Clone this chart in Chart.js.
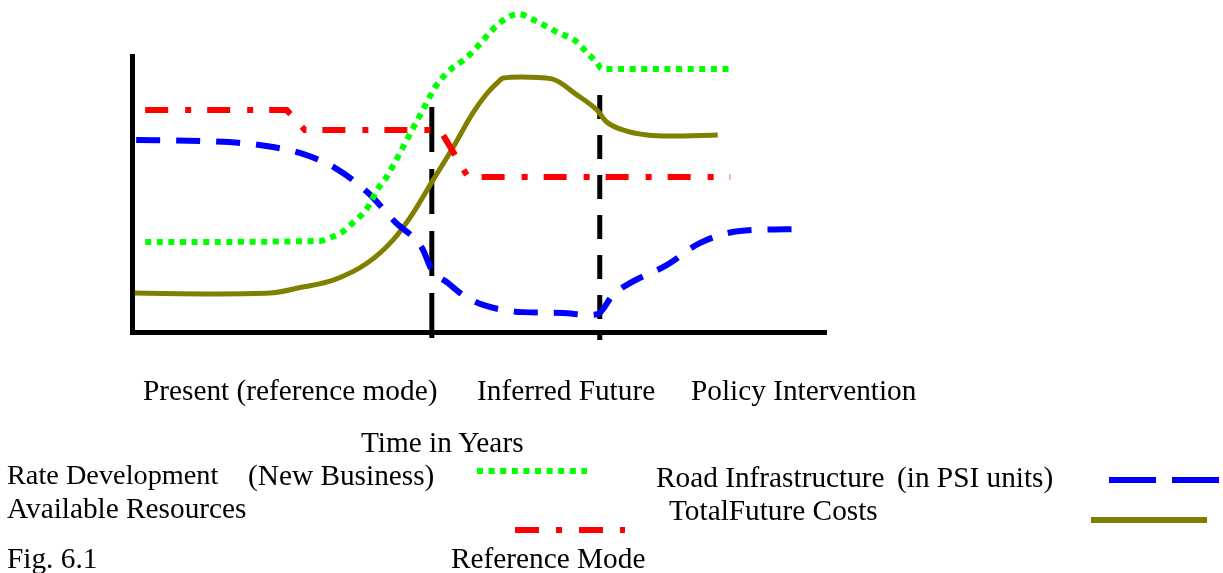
<!DOCTYPE html>
<html>
<head>
<meta charset="utf-8">
<title>Fig. 6.1 Reference Mode</title>
<script src="https://cdn.jsdelivr.net/npm/chart.js@4.4.0/dist/chart.umd.min.js"></script>
<style>
    html, body { margin: 0; padding: 0; background: #fff; }
    #wrap { position: relative; width: 1223px; height: 573px; overflow: hidden; }
    #modeChart { position: absolute; left: 0; top: 0; }
    .t { position: absolute; font-family: "Liberation Serif", "Times New Roman", serif; font-size: 29.3px; line-height: 28px; color: #000; white-space: nowrap; }
    .key { position: absolute; overflow: visible; }
</style>
</head>
<body>
<div id="wrap">
    <canvas id="modeChart" width="1223" height="573"></canvas>

    <div class="t" style="left:143px; top:376px">Present (reference mode)</div>
    <div class="t" style="left:477px; top:376px">Inferred Future</div>
    <div class="t" style="left:691px; top:376px">Policy Intervention</div>
    <div class="t" style="left:361px; top:428px">Time in Years</div>

    <div class="t" style="left:7px; top:461px; font-size:28.3px">Rate Development</div>
    <div class="t" style="left:248px; top:461px">(New Business)</div>
    <div class="t" style="left:7px; top:494px">Available Resources</div>
    <div class="t" style="left:656px; top:463px">Road Infrastructure</div>
    <div class="t" style="left:897px; top:463px">(in PSI units)</div>
    <div class="t" style="left:669px; top:496px">TotalFuture Costs</div>

    <div class="t" style="left:7px; top:544px">Fig. 6.1</div>
    <div class="t" style="left:451px; top:544px">Reference Mode</div>

    <svg class="key" style="left:477px; top:465px" width="112" height="12"><line x1="0" y1="6" x2="110" y2="6" stroke="#00ff00" stroke-width="6" stroke-dasharray="6 5.6"/></svg>
    <svg class="key" style="left:515px; top:524px" width="112" height="12"><line x1="0" y1="6" x2="110" y2="6" stroke="#ff0000" stroke-width="6" stroke-dasharray="24 17 6 17"/></svg>
    <svg class="key" style="left:1109px; top:474px" width="114" height="12"><line x1="0" y1="6" x2="114" y2="6" stroke="#0000ff" stroke-width="6" stroke-dasharray="47 16"/></svg>
    <svg class="key" style="left:1091px; top:514px" width="116" height="12"><line x1="0" y1="6" x2="116" y2="6" stroke="#808000" stroke-width="6"/></svg>
</div>

<script>
/* Fig. 6.1 reference mode. x = time (0..100 along the axis), y = relative level. */
const rateDevelopment = [
    [1.9, 32.6], [27.1, 33.0], [28.5, 34.1], [30.3, 36.2], [31.8, 39.5], [33.9, 44.9],
    [35.3, 51.4], [36.7, 56.2], [38.2, 63.0], [39.6, 69.6], [40.5, 73.9], [41.9, 80.4],
    [43.2, 86.6], [43.7, 88.8], [45.5, 94.2], [48.3, 99.6], [50.4, 105.1], [51.6, 108.7],
    [54.0, 113.8], [55.6, 115.2], [58.5, 112.3], [61.2, 108.7], [64.1, 105.1], [65.6, 101.1],
    [67.0, 97.5], [67.7, 95.3], [86.2, 95.3],
];
const availableResources = [
    [1.9, 80.4], [22.3, 80.4], [24.9, 73.2], [44.4, 73.2], [48.4, 56.2], [86.2, 56.2],
];
const roadInfrastructure = [
    [0.6, 69.6], [9.8, 69.2], [15.6, 68.5], [20.3, 67.0], [24.2, 64.9], [29.3, 59.4],
    [33.9, 50.7], [37.9, 39.9], [41.8, 30.4], [43.2, 22.5], [45.5, 17.8], [47.7, 13.4],
    [50.6, 9.8], [56.3, 7.2], [62.1, 6.9], [65.6, 6.2], [67.1, 6.5], [69.3, 13.4],
    [71.8, 17.8], [77.1, 24.3], [81.8, 32.2], [87.6, 36.6], [96.3, 37.3],
];
const totalFutureCosts = [
    [0.4, 14.1], [12.7, 13.8], [19.9, 14.1], [24.6, 16.3], [29.0, 18.8], [33.9, 25.0],
    [37.6, 33.3], [40.5, 43.1], [43.2, 54.3], [46.3, 67.0], [49.1, 79.3], [51.2, 86.6],
    [52.6, 90.2], [53.5, 92.0], [56.0, 92.4], [60.5, 91.7], [64.1, 85.9], [67.0, 80.4],
    [68.4, 76.1], [71.3, 72.8], [74.2, 71.4], [77.5, 71.0], [84.4, 71.4],
];
// phase boundaries: end of present, end of inferred future
const presentEnd = [[43.2, 81.5], [43.2, -2.9]];
const futureEnd = [[67.4, 85.9], [67.4, -2.9]];

(function () {
    const ctx = document.getElementById('modeChart');
    const pts = arr => arr.map(([x, y]) => ({ x, y }));
    const series = (data, color, width, dash, extra) => Object.assign({
        data: pts(data),
        borderColor: color,
        borderWidth: width,
        borderDash: dash,
        borderCapStyle: 'butt',
        pointRadius: 0,
        fill: false,
        clip: false,
    }, extra || {});
    const smooth = { cubicInterpolationMode: 'monotone' };

    const axis = (fit) => ({
        type: 'linear',
        min: 0,
        max: 100,
        grid: { display: false },
        ticks: { display: false },
        border: { display: true, color: '#000', width: 5 },
        afterFit: fit,
    });

    new Chart(ctx, {
        type: 'line',
        data: {
            datasets: [
                series(rateDevelopment, '#00ff00', 6, [6, 5.6], smooth),
                series(roadInfrastructure, '#0000ff', 6, [24, 16], smooth),
                series(availableResources, '#ff0000', 6, [23, 17, 6, 16], { tension: 0 }),
                series(totalFutureCosts, '#808000', 5, [], smooth),
                series(presentEnd, '#000', 5, [45, 17], { tension: 0 }),
                series(futureEnd, '#000', 5, [24, 16], { tension: 0 }),
            ],
        },
        options: {
            responsive: false,
            animation: false,
            layout: { padding: { left: 132, right: 397, top: 56, bottom: 241 } },
            plugins: { legend: { display: false }, tooltip: { enabled: false } },
            scales: {
                x: axis(s => { s.height = 0; }),
                y: axis(s => { s.width = 0; }),
            },
        },
    });
})();
</script>
</body>
</html>
